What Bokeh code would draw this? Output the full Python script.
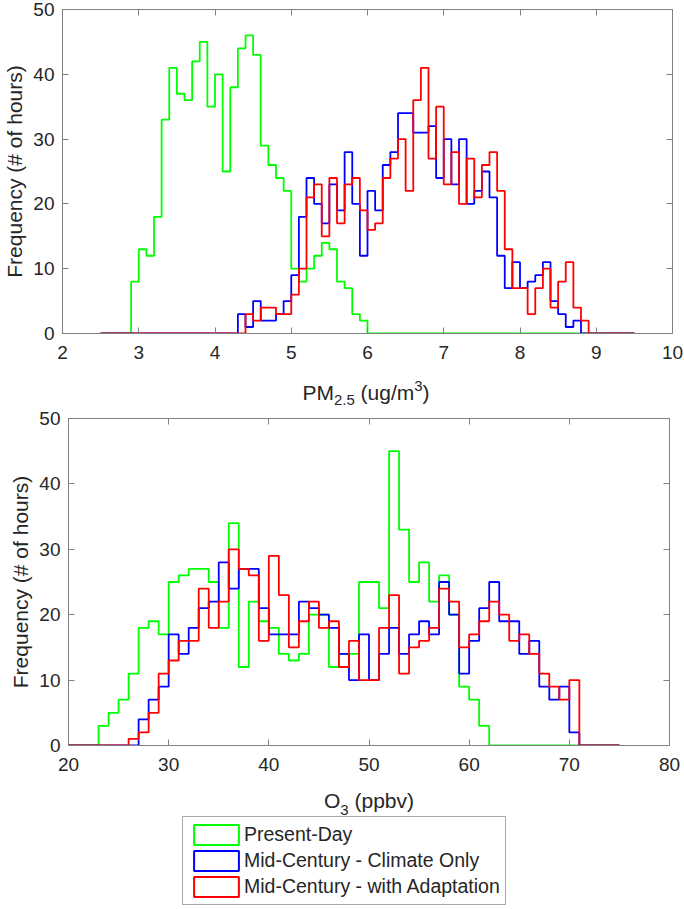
import numpy as np
from bokeh.plotting import figure
from bokeh.models import (Range1d, FixedTicker, LinearAxis, Label, Legend,
                          LegendItem, CustomJSTickFormatter)
from bokeh.layouts import column
from bokeh.embed import file_html
from bokeh.resources import INLINE

# ---------------- data ----------------
series_names = ["Present-Day", "Mid-Century - Climate Only", "Mid-Century - with Adaptation"]
series_colors = ["#00ff00", "#0000ff", "#ff0000"]

# PM2.5 histograms: bins of 0.1 ug/m3 from 2.5 to 9.5 (70 bins)
pm_bin_start = 2.5
pm_bin_width = 0.1
pm_present = [0, 0, 0, 0, 8, 13, 12, 18, 33, 41,
              37, 36, 42, 45, 35, 40, 25, 38, 44, 46,
              43, 29, 26, 24, 22, 10, 8, 10, 12, 14,
              13, 8, 7, 3, 2, 0, 0, 0, 0, 0,
              0, 0, 0, 0, 0, 0, 0, 0, 0, 0,
              0, 0, 0, 0, 0, 0, 0, 0, 0, 0,
              0, 0, 0, 0, 0, 0, 0, 0, 0, 0]
pm_climate = [0, 0, 0, 0, 0, 0, 0, 0, 0, 0,
              0, 0, 0, 0, 0, 0, 0, 0, 3, 1,
              5, 2, 2, 3, 5, 9, 18, 24, 20, 17,
              23, 19, 28, 20, 12, 22, 19, 26, 28, 34,
              34, 31, 31, 32, 24, 30, 23, 30, 20, 22,
              25, 21, 12, 7, 11, 7, 8, 9, 11, 5,
              3, 1, 2, 0, 0, 0, 0, 0, 0, 0]
pm_adapt = [0, 0, 0, 0, 0, 0, 0, 0, 0, 0,
            0, 0, 0, 0, 0, 0, 0, 0, 0, 3,
            2, 4, 4, 3, 3, 6, 10, 21, 23, 15,
            24, 17, 23, 24, 19, 16, 17, 24, 27, 30,
            22, 36, 41, 27, 35, 23, 28, 20, 27, 21,
            26, 28, 22, 13, 7, 7, 3, 7, 10, 4,
            8, 11, 4, 2, 0, 0, 0, 0, 0, 0]

# O3 histograms: bins of 1 ppbv from 20 to 75 (55 bins)
o3_bin_start = 20
o3_bin_width = 1
o3_present = [0, 0, 0, 3, 5, 7, 11, 18, 19, 17,
              25, 26, 27, 27, 25, 18, 34, 12, 22, 19,
              18, 14, 13, 14, 20, 20, 12, 14, 14, 25,
              25, 21, 45, 33, 25, 28, 22, 26, 20, 9,
              7, 3, 0, 0, 0, 0, 0, 0, 0, 0,
              0, 0, 0, 0, 0]
o3_climate = [0, 0, 0, 0, 0, 0, 0, 4, 7, 9,
              17, 14, 18, 21, 22, 28, 24, 27, 27, 21,
              17, 17, 17, 22, 21, 20, 18, 14, 10, 17,
              10, 14, 18, 14, 17, 19, 17, 25, 20, 11,
              16, 21, 25, 19, 19, 14, 16, 9, 7, 9,
              2, 0, 0, 0, 0]
o3_adapt = [0, 0, 0, 0, 0, 0, 1, 2, 5, 11,
            13, 16, 16, 24, 18, 22, 30, 27, 26, 16,
            29, 23, 15, 19, 22, 18, 19, 12, 16, 10,
            10, 18, 23, 11, 15, 16, 18, 24, 22, 15,
            17, 19, 22, 20, 16, 17, 14, 11, 9, 7,
            10, 0, 0, 0, 0]

pm_xticks = [2, 3, 4, 5, 6, 7, 8, 9, 10]
o3_xticks = [20, 30, 40, 50, 60, 70, 80]
y_ticks = [0, 10, 20, 30, 40, 50]

# ---------------- styling ----------------
FONT = "Liberation Sans"
AX = "#808080"
TXT = "#262626"
TICK_FS = "19px"
LABEL_FS = 21
SUB_FS = 15
PAGE_W = 684

# Arial / Liberation Sans advance widths (em)
CW = {"P": .667, "M": .833, "2": .556, ".": .278, "5": .556, " ": .278, "(": .333,
      "u": .556, "g": .556, "/": .278, "m": .833, "3": .556, ")": .333, "O": .778,
      "p": .556, "b": .556, "v": .5}


def text_w(s, size):
    return sum(CW.get(c, .556) for c in s) * size


def hist_xy(start, width, counts):
    edges = start + width * np.arange(len(counts) + 1)
    ys = list(counts) + [counts[-1]]
    return edges, ys


def blank_axis(ticks):
    return LinearAxis(ticker=FixedTicker(ticks=ticks),
                      formatter=CustomJSTickFormatter(code="return ''"),
                      major_label_text_font_size="0px", major_label_standoff=0,
                      axis_line_color=None, major_tick_in=6, major_tick_out=0,
                      major_tick_line_color=AX, minor_tick_line_color=None)


def make_fig(height, borders, xr, xticks, start, width, data):
    left, right, top, bottom = borders
    p = figure(width=PAGE_W, height=height, output_backend="svg", toolbar_location=None,
               x_range=Range1d(*xr), y_range=Range1d(0, 50),
               min_border_left=left, min_border_right=right,
               min_border_top=top, min_border_bottom=bottom)
    p.frame_align = False
    p.background_fill_color = "white"
    p.border_fill_color = "white"
    p.outline_line_color = AX
    p.outline_line_width = 1
    p.grid.visible = False
    p.xaxis.ticker = FixedTicker(ticks=xticks)
    p.yaxis.ticker = FixedTicker(ticks=y_ticks)
    for ax in (p.xaxis[0], p.yaxis[0]):
        ax.axis_line_color = AX
        ax.major_tick_in = 6
        ax.major_tick_out = 0
        ax.major_tick_line_color = AX
        ax.minor_tick_line_color = None
        ax.major_label_text_font = FONT
        ax.major_label_text_font_size = TICK_FS
        ax.major_label_text_color = TXT
    p.xaxis.major_label_standoff = 12
    p.yaxis.major_label_standoff = 8
    p.yaxis.axis_label = "Frequency (# of hours)"
    p.yaxis.axis_label_text_font = FONT
    p.yaxis.axis_label_text_font_size = f"{LABEL_FS}px"
    p.yaxis.axis_label_text_font_style = "normal"
    p.yaxis.axis_label_text_color = TXT
    p.yaxis.axis_label_standoff = 4
    p.add_layout(blank_axis(xticks), "above")
    p.add_layout(blank_axis(y_ticks), "right")
    for counts, color in zip(data, series_colors):
        xs, ys = hist_xy(start, width, counts)
        p.step(x=xs, y=ys, mode="after", line_color=color, line_width=1.8)
    return p


def text_fig(height):
    p = figure(width=PAGE_W, height=height, output_backend="svg", toolbar_location=None,
               x_range=Range1d(0, PAGE_W), y_range=Range1d(0, height),
               x_axis_type=None, y_axis_type=None, min_border=0,
               min_border_left=0, min_border_right=0, min_border_top=0, min_border_bottom=0)
    p.frame_align = False
    p.outline_line_color = None
    p.grid.visible = False
    p.background_fill_color = "white"
    p.border_fill_color = "white"
    return p


def add_xlabel(p, parts, center_px, base_y):
    """parts: (text, font size px, baseline shift px downward); coordinates in px.
    Leading spaces are turned into an advance (SVG text trims them)."""
    total = sum(text_w(t, s) for t, s, _ in parts)
    x = center_px - total / 2
    for t, s, off in parts:
        stripped = t.lstrip(" ")
        x += text_w(t[:len(t) - len(stripped)], s)
        p.add_layout(Label(x=x, y=base_y - off, text=stripped, text_font=FONT,
                           text_font_size=f"{s}px", text_color=TXT,
                           text_align="left", text_baseline="alphabetic"))
        x += text_w(stripped, s)


# top panel: PM2.5  (frame: x 59..672, y 9..333)
p1 = make_fig(370, (59, 12, 9, 37), (2, 10), pm_xticks, pm_bin_start, pm_bin_width,
              [pm_present, pm_climate, pm_adapt])

# PM2.5 axis title strip (y 370..408)
lab1 = text_fig(38)
add_xlabel(lab1, [("PM", LABEL_FS, 0), ("2.5", SUB_FS, 7), (" (ug/m", LABEL_FS, 0),
                  ("3", SUB_FS, -7), (")", LABEL_FS, 0)], 365.5, 408 - 392)

# bottom panel: O3  (frame: x 68..669, y 418..745), figure y 408..781
p2 = make_fig(373, (68, 15, 10, 36), (20, 80), o3_xticks, o3_bin_start, o3_bin_width,
              [o3_present, o3_climate, o3_adapt])

# O3 axis title + legend strip (y 781..909)
p3 = text_fig(128)
add_xlabel(p3, [("O", LABEL_FS, 0), ("3", SUB_FS, 10), (" (ppbv)", LABEL_FS, 0)],
           368.5, 128 - (799.5 - 781))
items = []
for name, color in zip(series_names, series_colors):
    # legend swatch renderer kept outside the visible strip
    r = p3.quad(left=[-40], right=[-20], top=[-20], bottom=[-40], fill_color=None,
                line_color=color, line_width=2)
    items.append(LegendItem(label=name, renderers=[r]))
legend = Legend(items=items, location=(182, 4), orientation="vertical",
                padding=5, spacing=1, margin=0,
                glyph_width=56, glyph_height=25, label_height=25, label_standoff=0,
                label_text_font=FONT, label_text_font_size="19.5px", label_text_color=TXT,
                border_line_color="#555555", border_line_width=1,
                background_fill_color="white", background_fill_alpha=1)
p3.add_layout(legend)

layout = column(p1, lab1, p2, p3, spacing=0)

open("out.html", "w").write(file_html(layout, INLINE))
